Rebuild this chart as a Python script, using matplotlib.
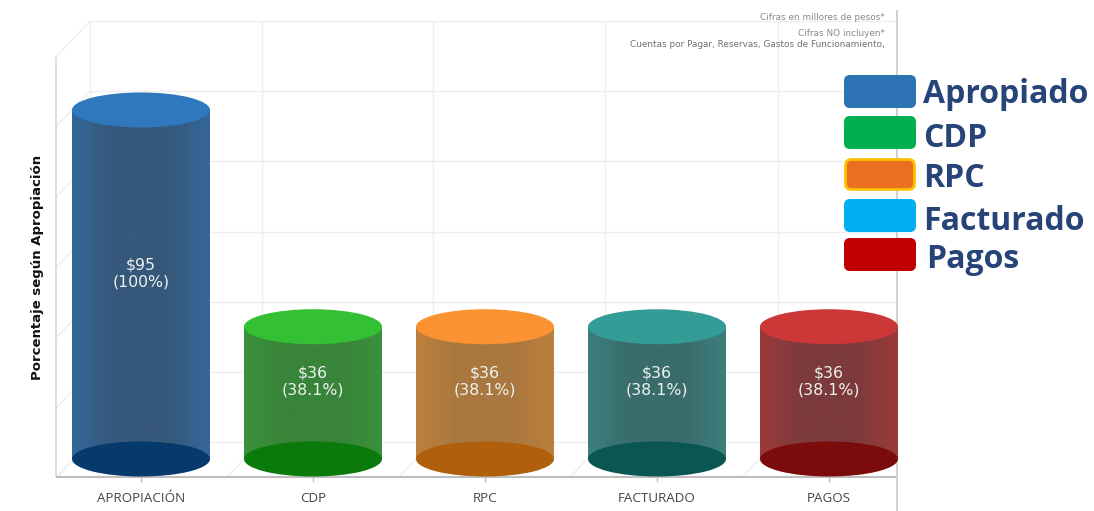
import matplotlib.pyplot as plt
import numpy as np
from matplotlib.patches import Ellipse, FancyBboxPatch
from matplotlib.colors import to_rgb
from matplotlib.transforms import Affine2D

W, H = 1094, 511

categories = ['APROPIACIÓN', 'CDP', 'RPC', 'FACTURADO', 'PAGOS']
values = [95, 36, 36, 36, 36]
percents = [100, 38.1, 38.1, 38.1, 38.1]
top_colors = ['#2f78bd', '#34c034', '#fb9332', '#349c96', '#cc3838']
bottom_colors = ['#063a6c', '#0a7a0c', '#b05f0c', '#0a5650', '#7c0b0b']
side_edge = ['#33679a', '#3a923a', '#bd7f3c', '#3c7f7c', '#9c3a3a']
side_mid = ['#36587a', '#38843a', '#a9783f', '#3a6c6c', '#7c3a3c']

legend_labels = ['Apropiado', 'CDP', 'RPC', 'Facturado', 'Pagos']
legend_colors = ['#2e74b5', '#00b050', '#ea7020', '#00b0f0', '#c00000']
legend_text_y = [94, 138, 178, 221, 259]
legend_text_x = [923, 923, 923, 923, 926]
legend_box_y = [75, 116, 158, 199, 238]

fig = plt.figure(figsize=(W / 100, H / 100), dpi=100, facecolor='white')
ax = fig.add_axes([0, 0, 1, 1])

# 172 px between bars, 3.674 px for each unit, baseline at y=459 px
x_step = 172.0
y_step = 3.674
ax.axis('off')

# pixel coords measured from the top left
px = Affine2D().scale(1, -1).translate(0, H)


def wall_line(xs, ys, color='#eeeeee', lw=1.0):
    ax.plot(xs, ys, color=color, lw=lw, transform=px, zorder=1, solid_capstyle='butt')


# back wall
for gy in [21, 91, 161, 232, 302, 372, 442]:
    wall_line([90, 897], [gy, gy])
    wall_line([56, 90], [gy + 36, gy])
for gx in [90, 262, 433, 605, 778]:
    wall_line([gx, gx], [21, 442])
for fx in [56, 227, 399, 570, 742]:
    wall_line([fx, fx + 34], [477, 442])

# axis frame
wall_line([56, 56], [57, 477], '#d8d8d8', 1.2)
wall_line([56, 897], [477, 477], '#bdbdbd', 1.5)
wall_line([897, 897], [10, 511], '#c8c8c8', 1.2)
for i in range(len(categories)):
    ax.plot([i, i], [-18 / y_step, -21.5 / y_step], color='#bdbdbd', lw=1, zorder=1)

# cylinders
half_w = 69 / x_step
ell_h = 35 / y_step


def side_gradient(edge, mid):
    e = np.array(to_rgb(edge))
    m = np.array(to_rgb(mid))
    t = np.abs(np.linspace(-1, 1, 200))
    t = np.clip((t - 0.4) / 0.6, 0, 1)[:, None]
    return (m * (1 - t) + e * t)[None, :, :]


for i, v in enumerate(values):
    ax.imshow(side_gradient(side_edge[i], side_mid[i]), aspect='auto',
              extent=[i - half_w, i + half_w, 0, v], zorder=3, interpolation='bilinear')
    ax.add_patch(Ellipse((i, 0), 2 * half_w, ell_h, fc=bottom_colors[i], ec='none', zorder=4))
    ax.add_patch(Ellipse((i, v), 2 * half_w, ell_h, fc=top_colors[i], ec='none', zorder=4))
    ax.text(i, v / 2 + 3, '$%d\n(%s%%)' % (v, percents[i]), color='#eef2ee', fontsize=11.3,
            ha='center', va='center', linespacing=1.15, zorder=5, family='DejaVu Sans')
    ax.text(i, -39 / y_step, categories[i], color='#444444', fontsize=9.6, ha='center', va='center',
            family='Open Sans', zorder=5)

# imshow resets the limits, so set them here
ax.set_xlim(-141 / x_step, (W - 141) / x_step)
ax.set_ylim(-(H - 459) / y_step, 459 / y_step)

ax.text(38, 267, 'Porcentaje según Apropiación', transform=px, rotation=90, ha='center', va='center',
        fontsize=9.5, fontweight='bold', color='#111111', family='DejaVu Sans')

# notes
note_color = '#8a8a8a'
ax.text(885, 17, 'Cifras en millores de pesos*', transform=px, ha='right', va='center',
        fontsize=6.4, color=note_color, family='DejaVu Sans')
ax.text(885, 33, 'Cifras NO incluyen*', transform=px, ha='right', va='center',
        fontsize=6.4, color=note_color, family='DejaVu Sans')
ax.text(885, 44, 'Cuentas por Pagar, Reservas, Gastos de Funcionamiento,', transform=px, ha='right', va='center',
        fontsize=6.4, color='#707070', family='DejaVu Sans')

# legend
for i, lab in enumerate(legend_labels):
    if lab == 'RPC':
        box = (845.5, legend_box_y[i] + 1.5, 69, 30)
        ec, lw = '#ffc000', 2
    else:
        box = (844, legend_box_y[i], 72, 33)
        ec, lw = 'none', 0
    ax.add_patch(FancyBboxPatch(box[:2], box[2], box[3], boxstyle='round,pad=0,rounding_size=6',
                                fc=legend_colors[i], ec=ec, lw=lw, transform=px, zorder=6))
    ax.text(legend_text_x[i], legend_text_y[i], lab, transform=px, ha='left', va='center', fontsize=23,
            fontweight='bold', color='#264478', family='Open Sans', zorder=7)

fig.savefig('out.png', dpi=100)
